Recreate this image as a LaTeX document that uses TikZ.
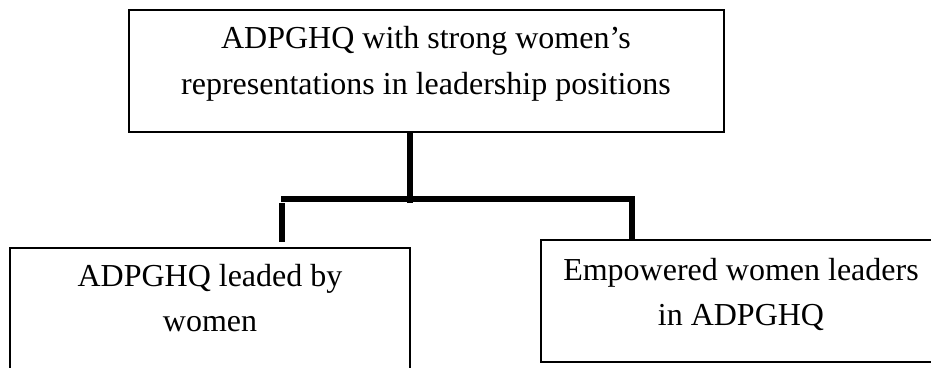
\documentclass[tikz,border=0pt]{standalone}
\usepackage{fontspec}
\setmainfont{Liberation Serif}
\begin{document}
\begin{tikzpicture}[x=1pt,y=-1pt,
  box/.style={draw=black, line width=2.4pt, rectangle, inner sep=0pt},
  txt/.style={font=\fontsize{32}{46}\selectfont, inner sep=0pt, anchor=base},
  conn/.style={draw=black, line width=6pt}]
  % page frame; the lower-left box runs past the bottom edge
  \clip (0,0) rectangle (931,367);

  % boxes
  \node[box, minimum width=595pt, minimum height=122pt] (top)   at (426.5,71) {};
  \node[box, minimum width=400pt, minimum height=150pt] (left)  at (210,323)  {};
  \node[box, minimum width=400pt, minimum height=122pt] (right) at (741,301)  {};

  % box texts
  \node[txt] (top1)   at (426,48)  {ADPGHQ with strong women’s};
  \node[txt] (top2)   at (426,94)  {representations in leadership positions};
  \node[txt] (left1)  at (210,286) {ADPGHQ leaded by};
  \node[txt] (left2)  at (210,331) {women};
  \node[txt] (right1) at (741,280) {Empowered women leaders};
  \node[txt] (right2) at (741,325) {in ADPGHQ};

  % branching connector
  \coordinate (hub)   at (410,203);
  \coordinate (barL)  at (281,199);
  \coordinate (barR)  at (635,199);
  \coordinate (lstem) at (282,203);
  \coordinate (rstem) at (632,196);
  \draw[conn] (top.south -| hub) -- (hub);
  \draw[conn] (barL) -- (barR);
  \draw[conn] (lstem) -- ([yshift=5pt]left.north -| lstem);
  \draw[conn] (rstem) -- (right.north -| rstem);
\end{tikzpicture}
\end{document}
